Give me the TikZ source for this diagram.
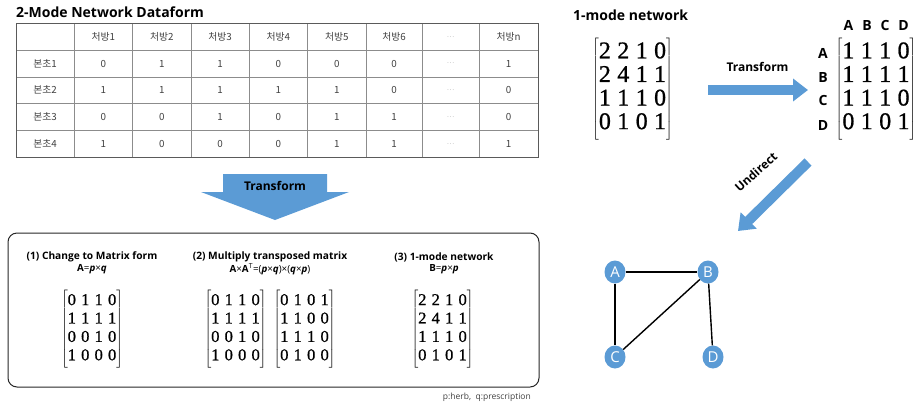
\documentclass[tikz,border=0pt]{standalone}
\usepackage{fontspec}
\usetikzlibrary{arrows.meta,shapes.geometric}
\newfontfamily\osans{Open Sans}
\newfontfamily\kr{Noto Sans CJK KR}
\newfontfamily\matfont[FakeBold=0.8]{Liberation Serif}
\definecolor{ablue}{HTML}{5B9BD5}
\definecolor{tgray}{HTML}{404040}
\definecolor{lgray}{HTML}{8C8C8C}
\definecolor{bgray}{HTML}{5A5A5A}
\newcommand{\edots}{{\color{gray!70}\fontsize{7}{8}\selectfont …}}
\newlength{\mcs}
\newcommand{\brmat}[1]{\delimiterfactor=1000 \delimitershortfall=-0.2em $\left[\vcenter{\hbox{\matfont\setlength\tabcolsep{\mcs}\begin{tabular}{@{}cccc@{}}#1\end{tabular}}}\right]$}
\tikzset{
  cell/.style={font=\kr\fontsize{9.8}{11}\selectfont, text=tgray, inner sep=0pt},
  ttl/.style={font=\osans\bfseries\fontsize{14}{16}\selectfont, inner sep=0pt, anchor=west},
  lbl/.style={font=\osans\bfseries\fontsize{10.2}{12}\selectfont, inner sep=0pt},
  frm/.style={font=\osans\fontsize{9.8}{11}\selectfont, inner sep=0pt},
  smat/.style={font=\fontsize{16.5}{18.4}\selectfont, inner sep=0pt,
    execute at begin node={\setlength\mcs{2.6pt}}},
  lmat/.style={font=\fontsize{24}{23.6}\selectfont, inner sep=0pt,
    execute at begin node={\setlength\mcs{3.2pt}}},
  hdr/.style={font=\osans\bfseries\fontsize{14}{16}\selectfont, inner sep=0pt},
  arlbl/.style={font=\osans\bfseries\fontsize{12}{14}\selectfont, inner sep=0pt},
  vtx/.style={ellipse, fill=ablue, text=white, minimum width=21pt, minimum height=23pt, inner sep=0pt,
    font=\osans\fontsize{15}{15}\selectfont},
  edge/.style={line width=1.4pt, black},
  bigarrow/.style={line width=10pt, ablue, -{Triangle[length=15pt,width=22pt]}},
}
\begin{document}
\begin{tikzpicture}[x=1pt,y=-1pt]
\useasboundingbox (0,0) rectangle (923,405);

% ---------- 2-mode table ----------
\node[ttl] (title2) at (16,12) {2-Mode Network Dataform};
\def\colx{{45,103.25,161.75,220,278.25,336.75,394,450.5,508.5}}
\foreach \x in {74,132.5,191,249,307.5,366,422,479}
  \draw[lgray, line width=0.6pt] (\x,23.5) -- (\x,157);
\foreach \y in {50.2,76.9,103.6,130.3}
  \draw[lgray, line width=0.6pt] (16,\y) -- (538,\y);
\draw[bgray, line width=0.8pt] (16,23.5) rectangle (538,157);

\foreach \v [count=\c] in {,처방1,처방2,처방3,처방4,처방5,처방6,\edots,처방n}{
  \pgfmathsetmacro\xx{\colx[\c-1]}
  \node[cell] (h\c) at (\xx,36.85) {\v};}
\foreach \v [count=\c] in {본초1,0,1,1,0,0,0,\edots,1}{
  \pgfmathsetmacro\xx{\colx[\c-1]}
  \node[cell] (ra\c) at (\xx,63.55) {\v};}
\foreach \v [count=\c] in {본초2,1,1,1,1,1,0,\edots,0}{
  \pgfmathsetmacro\xx{\colx[\c-1]}
  \node[cell] (rb\c) at (\xx,90.25) {\v};}
\foreach \v [count=\c] in {본초3,0,0,1,0,1,1,\edots,0}{
  \pgfmathsetmacro\xx{\colx[\c-1]}
  \node[cell] (rc\c) at (\xx,116.95) {\v};}
\foreach \v [count=\c] in {본초4,1,0,0,0,1,1,\edots,1}{
  \pgfmathsetmacro\xx{\colx[\c-1]}
  \node[cell] (rd\c) at (\xx,143.65) {\v};}

% ---------- down Transform arrow ----------
\fill[ablue] (223,174) -- (327,174) -- (327,192) -- (349,192) -- (275,220)
  -- (201,192) -- (223,192) -- cycle;
\node[arlbl] (tdown) at (275,186) {Transform};

% ---------- bottom box ----------
\draw[black!85, line width=1pt, rounded corners=9pt] (8,233) rectangle (539,387);
\node[lbl] (l1) at (92,257) {(1) Change to Matrix form};
\node[frm] (f1) at (92,269) {\textbf{A}=\textbf{\textit{p}}×\textbf{\textit{q}}};
\node[lbl] (l2) at (270,257) {(2) Multiply transposed matrix};
\node[frm] (f2) at (270,269) {\textbf{A}×\textbf{A}\textsuperscript{T}=(\textbf{\textit{p}}×\textbf{\textit{q}})×(\textbf{\textit{q}}×\textbf{\textit{p}})};
\node[lbl] (l3) at (444,257) {(3) 1-mode network};
\node[frm] (f3) at (444,269) {\textbf{B}=\textbf{\textit{p}}×\textbf{\textit{p}}};

\node[smat] (m1) at (92,329) {\brmat{0&1&1&0\\1&1&1&1\\0&0&1&0\\1&0&0&0}};
\node[smat] (m2) at (235.5,329) {\brmat{0&1&1&0\\1&1&1&1\\0&0&1&0\\1&0&0&0}};
\node[smat] (m3) at (304.5,329) {\brmat{0&1&0&1\\1&1&0&0\\1&1&1&0\\0&1&0&0}};
\node[smat] (m4) at (442.5,329) {\brmat{2&2&1&0\\2&4&1&1\\1&1&1&0\\0&1&0&1}};
\node[font=\osans\fontsize{8.5}{10}\selectfont, text=tgray, inner sep=0pt, anchor=east] (note) at (531,397) {p:herb,\ \ q:prescription};

% ---------- right top ----------
\node[ttl] (title1) at (573,15) {1-mode network};
\node[lmat] (bm) at (632.5,89) {\brmat{2&2&1&0\\2&4&1&1\\1&1&1&0\\0&1&0&1}};
\node[lmat] (am) at (876,89) {\brmat{1&1&1&0\\1&1&1&1\\1&1&1&0\\0&1&0&1}};
\foreach \l/\x in {A/848.5,B/867,C/885,D/903.5}
  \node[hdr] (col\l) at (\x,25) {\l};
\foreach \l/\y in {A/53,B/77,C/100,D/125}
  \node[hdr] (row\l) at (823,\y) {\l};

\coordinate (t1) at (708,90);
\coordinate (t2) at (808,90);
\draw[bigarrow] (t1) -- (t2);
\node[arlbl] (tright) at (757.5,67) {Transform};

\coordinate (u1) at (808,162);
\coordinate (u2) at (738,231);
\draw[bigarrow] (u1) -- (u2);
\node[arlbl, rotate=42] (undir) at (756,172) {Undirect};

% ---------- graph ----------
\node[vtx] (A) at (615,272) {A};
\node[vtx] (B) at (708,272) {B};
\node[vtx] (C) at (615,357) {C};
\node[vtx] (D) at (713,357) {D};
\draw[edge] (A) -- (B);
\draw[edge] (A) -- (C);
\draw[edge] (B) -- (C);
\draw[edge] (B) -- (D);
\end{tikzpicture}
\end{document}
